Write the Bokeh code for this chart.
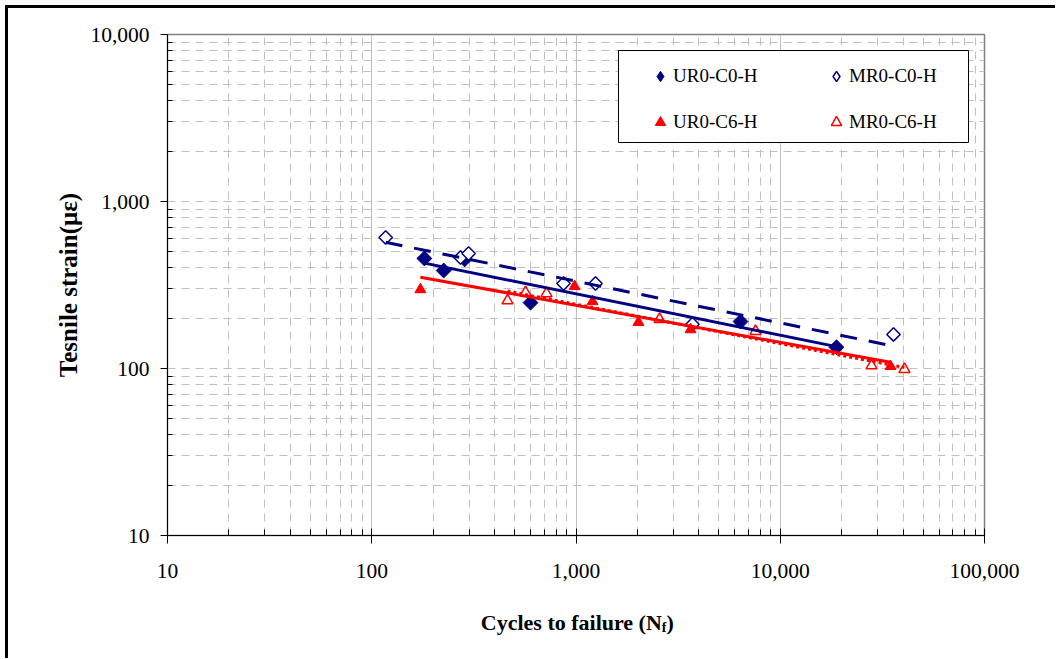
import numpy as np
from bokeh.plotting import figure
from bokeh.layouts import column
from bokeh.models import (Range1d, FixedTicker, NumeralTickFormatter,
                          Legend, LegendItem, BoxAnnotation)
from bokeh.core.properties import value
from bokeh.embed import file_html
from bokeh.resources import INLINE

# ---------------- data ----------------
ur0_c0_n = [181, 225, 285, 599, 6390, 18850]
ur0_c0_s = [456, 386, 450, 248, 191, 134]
mr0_c0_n = [117, 272, 298, 869, 1246, 3718, 35850]
mr0_c0_s = [609, 462, 488, 323, 323, 184, 160]
ur0_c6_n = [173, 984, 1205, 2023, 3638, 34670]
ur0_c6_s = [297, 310, 252, 189, 171, 103]
mr0_c6_n = [462, 566, 717, 2564, 7568, 27990, 40560]
mr0_c6_s = [255, 285, 281, 197, 167, 104, 99]

series_names = ["UR0-C0-H", "MR0-C0-H", "UR0-C6-H", "MR0-C6-H"]
x_major = [10, 100, 1000, 10000, 100000]
y_major = [10, 100, 1000, 10000]
x_title_main = "Cycles to failure (N"
x_title_sub = "f"
x_title_end = ")"
y_title = "Tesnile strain(\u03bc\u03b5)"

NAVY = "#000080"
RED = "#ff0000"
GRID = "#c0c0c0"
FONT = "Liberation Serif"

# ---------------- main figure ----------------
W, H = 1047, 590
BL, BR, BT, BB = 159, 71, 26, 63
FW = W - BL - BR
FH = H - BT - BB
p = figure(width=W, height=H, x_axis_type="log", y_axis_type="log",
           x_range=Range1d(x_major[0], x_major[-1]),
           y_range=Range1d(y_major[0], y_major[-1]),
           output_backend="svg", toolbar_location=None, title=None,
           min_border_left=BL, min_border_right=BR,
           min_border_top=BT, min_border_bottom=BB)
p.background_fill_color = "white"
p.border_fill_color = "white"
p.outline_line_color = "#808080"
p.outline_line_width = 1.5

def minors(major):
    return [m * t for t in major[:-1] for m in range(2, 10)]

p.xaxis.ticker = FixedTicker(ticks=x_major, minor_ticks=minors(x_major))
p.yaxis.ticker = FixedTicker(ticks=y_major, minor_ticks=minors(y_major))
for ax in (p.xaxis, p.yaxis):
    ax.formatter = NumeralTickFormatter(format="0,0")
    ax.axis_line_color = "black"
    ax.axis_line_width = 1
    ax.major_tick_line_color = "black"
    ax.minor_tick_line_color = "black"
    ax.major_label_text_font = FONT
    ax.major_label_text_font_size = "21.5px"
    ax.major_label_text_color = "black"
    ax.minor_tick_out = 0
p.xaxis.major_tick_out = 8
p.xaxis.major_tick_in = 7
p.xaxis.minor_tick_in = 6
p.xaxis.major_label_standoff = 20
p.yaxis.major_tick_out = 7
p.yaxis.major_tick_in = 0
p.yaxis.minor_tick_in = 5
p.yaxis.major_label_standoff = 11

p.yaxis.axis_label = y_title
p.yaxis.axis_label_text_font = FONT
p.yaxis.axis_label_text_font_style = "bold"
p.yaxis.axis_label_text_font_size = "25px"
p.yaxis.axis_label_text_color = "black"
p.yaxis.axis_label_standoff = 5

p.xgrid.grid_line_color = GRID
p.xgrid.grid_line_width = 1
p.xgrid.minor_grid_line_color = GRID
p.xgrid.minor_grid_line_dash = "8 6"
p.ygrid.grid_line_color = GRID
p.ygrid.grid_line_dash = "8 6"
p.ygrid.minor_grid_line_color = GRID
p.ygrid.minor_grid_line_dash = "8 6"

# ---------------- markers ----------------
p.scatter(ur0_c0_n, ur0_c0_s, marker="square", angle=np.pi / 4, size=10.5,
          fill_color=NAVY, line_color=NAVY)
p.scatter(mr0_c0_n, mr0_c0_s, marker="square", angle=np.pi / 4, size=9.5,
          fill_color="white", line_color=NAVY, line_width=1.5)
p.scatter(ur0_c6_n, ur0_c6_s, marker="triangle", size=11,
          fill_color=RED, line_color=RED)
p.scatter(mr0_c6_n, mr0_c6_s, marker="triangle", size=11,
          fill_color="white", line_color=RED, line_width=1.5)

# legend-only renderers (a single NaN point, never drawn on the plot)
nan = [float("nan")]
l_ur0 = p.scatter(nan, nan, marker="diamond", fill_color=NAVY, line_color=NAVY)
l_mr0 = p.scatter(nan, nan, marker="diamond", fill_color="white", line_color=NAVY, line_width=1.5)
l_ur6 = p.scatter(nan, nan, marker="triangle", fill_color=RED, line_color=RED)
l_mr6 = p.scatter(nan, nan, marker="triangle", fill_color="white", line_color=RED, line_width=1.5)

# ---------------- power trendlines ----------------
def power_fit(n, s):
    b, a = np.polyfit(np.log10(n), np.log10(s), 1)
    xs = np.array([min(n), max(n)], dtype=float)
    return xs, 10 ** (a + b * np.log10(xs))

x, y = power_fit(ur0_c0_n, ur0_c0_s)
p.line(x, y, line_color=NAVY, line_width=3)
x, y = power_fit(mr0_c0_n, mr0_c0_s)
p.line(x, y, line_color=NAVY, line_width=3, line_dash="17 12")
x, y = power_fit(ur0_c6_n, ur0_c6_s)
p.line(x, y, line_color=RED, line_width=3)
x, y = power_fit(mr0_c6_n, mr0_c6_s)
p.line(x, y, line_color=RED, line_width=3, line_dash="3 3")

# ---------------- legend ----------------
def px_to_x(px):
    lo, hi = np.log10(x_major[0]), np.log10(x_major[-1])
    return 10 ** (lo + (hi - lo) * px / FW)

def py_to_y(py):  # measured down from frame top
    lo, hi = np.log10(y_major[0]), np.log10(y_major[-1])
    return 10 ** (hi - (hi - lo) * py / FH)

box = BoxAnnotation(left=px_to_x(451), right=px_to_x(801),
                    top=py_to_y(16), bottom=py_to_y(108),
                    fill_color="white", fill_alpha=1.0,
                    line_color="black", line_width=1, line_alpha=1.0)
p.add_layout(box)

legend = Legend(items=[LegendItem(label=series_names[0], renderers=[l_ur0]),
                       LegendItem(label=series_names[2], renderers=[l_ur6]),
                       LegendItem(label=series_names[1], renderers=[l_mr0]),
                       LegendItem(label=series_names[3], renderers=[l_mr6])],
                location=(480, 398), ncols=2, margin=0, padding=0,
                glyph_width=26, glyph_height=30, label_height=30, label_width=134,
                label_standoff=0, spacing=16,
                background_fill_alpha=0, border_line_alpha=0,
                label_text_font=FONT, label_text_font_size="19px",
                label_text_color="black")
p.add_layout(legend, "center")

# ---------------- x axis title strip (with subscript) ----------------
H2 = 60
p2 = figure(width=W, height=H2, x_range=Range1d(0, W), y_range=Range1d(0, H2),
            output_backend="svg", toolbar_location=None, title=None,
            min_border=0, min_border_left=0, min_border_right=0,
            min_border_top=0, min_border_bottom=0)
p2.axis.visible = False
p2.grid.visible = False
p2.outline_line_color = None
p2.background_fill_color = "white"
p2.border_fill_color = "white"

x_end = BL + 2 * FW / 4 + 66     # right end of "(N"
y_mid = H2 - 24                  # vertical centre of the title
p2.text(x=[x_end], y=[y_mid], text=[x_title_main], text_align="right",
        text_baseline="middle", text_font=value(FONT), text_font_style="bold",
        text_font_size="22px", text_color="black")
p2.text(x=[x_end], y=[y_mid - 5], text=[x_title_sub], text_align="left",
        text_baseline="middle", text_font=value(FONT), text_font_style="bold",
        text_font_size="14px", text_color="black")
p2.text(x=[x_end + 6], y=[y_mid], text=[x_title_end], text_align="left",
        text_baseline="middle", text_font=value(FONT), text_font_style="bold",
        text_font_size="22px", text_color="black")

layout = column(p, p2, spacing=0,
                styles={"border-left": "3px solid black", "border-top": "3px solid black",
                        "margin-left": "5px", "margin-top": "5px"})

open("out.html", "w").write(file_html(layout, INLINE))
